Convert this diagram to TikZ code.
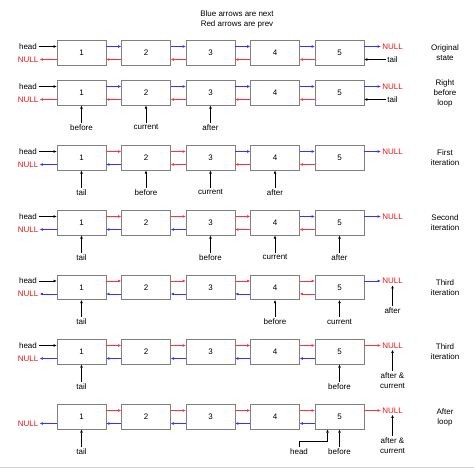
\documentclass[tikz,border=0pt]{standalone}
\usepackage{fontspec}
\setmainfont{Liberation Sans}
\usetikzlibrary{positioning,arrows.meta}
\definecolor{nextblue}{HTML}{3333FF}
\definecolor{prevred}{HTML}{FF3340}
\definecolor{nullred}{HTML}{EE1111}
\definecolor{boxgray}{HTML}{808080}
\begin{document}
\begin{tikzpicture}[
    x=1pt, y=-1pt,
    font=\fontsize{8}{10}\selectfont,
    cell/.style={draw=boxgray, fill=white, line width=0.8pt, minimum width=49pt, minimum height=24.5pt, inner sep=0pt},
    link/.style={-{Triangle[length=3pt,width=2.4pt]}, line width=0.6pt},
    bl/.style={link, draw=nextblue},
    rd/.style={link, draw=prevred},
    ptr/.style={link, draw=black},
    nul/.style={text=nullred, inner sep=1.5pt},
    lbl/.style={inner sep=1.5pt},
    state/.style={align=center}
]
    \useasboundingbox (0,0) rectangle (474,470);
    \node[align=center] (title) at (237,19) {Blue arrows are next\\Red arrows are prev};

    % the seven lists, with the colour of every link
    \foreach \r/\y/\tp/\bt in {
        1/53/{bl,bl,bl,bl,bl}/{rd,rd,rd,rd,rd},
        2/93/{bl,bl,bl,bl,bl}/{rd,rd,rd,rd,rd},
        3/158/{rd,rd,bl,bl,bl}/{bl,bl,rd,rd,rd},
        4/223/{rd,rd,rd,bl,bl}/{bl,bl,bl,rd,rd},
        5/287.5/{rd,rd,rd,rd,bl}/{bl,bl,bl,bl,rd},
        6/352/{rd,rd,rd,rd,rd}/{bl,bl,bl,bl,bl},
        7/417/{rd,rd,rd,rd,rd}/{bl,bl,bl,bl,bl}}{
        \foreach \i in {1,...,5}
            \node[cell] (b\r\i) at ({81.5+64.5*(\i-1)},\y) {\i};
        \node[nul] (nl\r) at (28,\y+6.5) {NULL};
        \node[nul] (nr\r) at (392.5,\y-6.5) {NULL};
        % next links (top)
        \foreach \c [count=\i] in \tp {
            \pgfmathtruncatemacro\j{\i+1}
            \ifnum\i<5
                \draw[\c] ([yshift=6.5pt]b\r\i.east) -- ([yshift=6.5pt]b\r\j.west);
            \else
                \draw[\c] ([yshift=6.5pt]b\r5.east) -- (nr\r);
            \fi
        }
        % prev links (bottom)
        \foreach \c [count=\i] in \bt {
            \pgfmathtruncatemacro\j{\i-1}
            \ifnum\i>1
                \draw[\c] ([yshift=-6.5pt]b\r\i.west) -- ([yshift=-6.5pt]b\r\j.east);
            \else
                \draw[\c] ([yshift=-6.5pt]b\r1.west) -- (nl\r);
            \fi
        }
    }

    % head on the left, tail on the right
    \foreach \r/\y in {1/53, 2/93, 3/158, 4/223, 5/287.5, 6/352} {
        \node[lbl] (hd\r) at (28,\y-6.5) {head};
        \draw[ptr] (hd\r) -- ([yshift=6.5pt]b\r1.west);
    }
    \foreach \r/\y in {1/53, 2/93} {
        \node[lbl] (tl\r) at (392.5,\y+6.5) {tail};
        \draw[ptr] (tl\r) -- ([yshift=-6.5pt]b\r5.east);
    }

    % states
    \node[state] (s1) at (445,53) {Original\\state};
    \node[state] (s2) at (445,93) {Right\\before\\loop};
    \node[state] (s3) at (445,158) {First\\iteration};
    \node[state] (s4) at (445,223) {Second\\iteration};
    \node[state] (s5) at (445,287.5) {Third\\iteration};
    \node[state] (s6) at (445,352) {Third\\iteration};
    \node[state] (s7) at (445,417) {After\\loop};

    % pointers under the boxes
    \foreach \r/\i/\t in {2/1/before, 2/2/current, 2/3/after,
        3/1/tail, 3/2/before, 3/3/current, 3/4/after,
        4/1/tail, 4/3/before, 4/4/current, 4/5/after,
        5/1/tail, 5/4/before, 5/5/current,
        6/1/tail, 6/5/before,
        7/1/tail, 7/5/before} {
        \node[lbl, below=17pt of b\r\i] (p\r\i) {\t};
        \draw[ptr] (p\r\i) -- (b\r\i);
    }
    \node[lbl, below=21pt of nr5] (af5) {after};
    \draw[ptr] (af5) -- (nr5);
    \node[lbl, align=center, below=21pt of nr6] (ac6) {after \&\\current};
    \draw[ptr] (ac6) -- (nr6);
    \node[lbl, align=center, below=21pt of nr7] (ac7) {after \&\\current};
    \draw[ptr] (ac7) -- (nr7);
    \node[lbl, below=17pt of b75, xshift=-40.5pt] (hd7) {head};
    \draw[ptr] (hd7.north) -- ([yshift=5pt]hd7.north) -| ([xshift=-12pt]b75.south);

    \draw[gray!35] (0,467.5) -- (474,467.5);
\end{tikzpicture}
\end{document}
